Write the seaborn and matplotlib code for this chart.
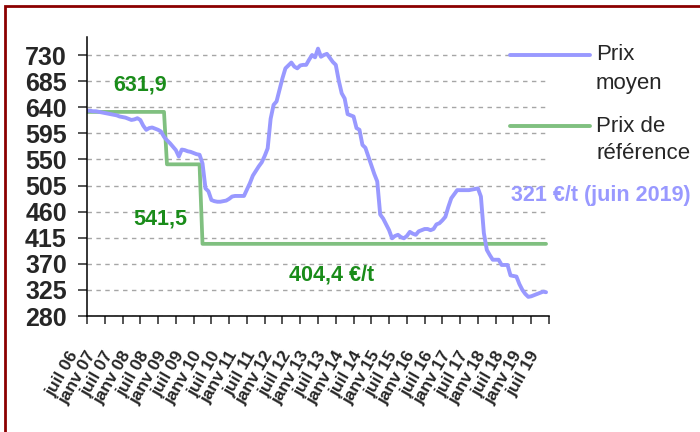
import numpy as np
import pandas as pd
import matplotlib
matplotlib.use("Agg")
import matplotlib.pyplot as plt
from matplotlib.lines import Line2D
from matplotlib.patches import Rectangle
from matplotlib.transforms import ScaledTranslation
import seaborn as sns

sns.set_style("ticks")
plt.rcParams["font.family"] = ["Liberation Sans", "DejaVu Sans"]

# prix moyen mensuel (EUR/t), juil 2006 -> juin 2019
prix_moyen = [
    634, 634, 633, 633, 632, 631,
    630, 629, 628, 627, 626, 624,
    623, 622, 620, 618, 619, 621,
    618, 608, 601, 604, 605, 603,
    601, 598, 589, 583, 578, 572,
    566, 555, 567, 566, 564, 563,
    561, 559, 558, 543, 500, 495,
    480, 478, 477, 477, 478, 479,
    482, 486, 487, 487, 487, 487,
    498, 509, 522, 530, 538, 545,
    556, 569, 620, 644, 650, 670,
    690, 707, 712, 717, 710, 707,
    712, 713, 713, 722, 730, 726,
    741, 727, 730, 732, 725, 718,
    713, 686, 664, 655, 628, 626,
    624, 604, 601, 575, 570, 555,
    540, 525, 512, 455, 448, 438,
    428, 414, 418, 420, 416, 414,
    418, 425, 422, 420, 426, 428,
    430, 430, 428, 430, 438, 440,
    445, 451, 468, 483, 490, 497,
    497, 497, 497, 497, 498, 499,
    500, 486, 423, 394, 385, 377,
    377, 377, 368, 368, 368, 350,
    349, 348, 335, 325, 318, 313,
    314, 316, 318, 320, 322, 321,
]

# prix de reference : 631,9 (jusqu'a sept 08), 541,5 (campagne 08/09), 404,4 ensuite
prix_reference = [631.9] * 27 + [541.5] * 12 + [404.4] * 117

x_labels = [
    "juil 06", "janv 07", "juil 07", "janv 08", "juil 08", "janv 09", "juil 09",
    "janv 10", "juil 10", "janv 11", "juil 11", "janv 12", "juil 12", "janv 13",
    "juil 13", "janv 14", "juil 14", "janv 15", "juil 15", "janv 16", "juil 16",
    "janv 17", "juil 17", "janv 18", "juil 18", "janv 19", "juil 19",
]
y_ticks = [280, 325, 370, 415, 460, 505, 550, 595, 640, 685, 730]

df = pd.DataFrame({
    "mois": np.arange(len(prix_moyen)),
    "prix_moyen": prix_moyen,
    "prix_reference": prix_reference,
})

BLUE = "#9999FF"
GREEN = "#80C080"
DGREEN = "#1A8C1A"

fig = plt.figure(figsize=(7, 4.32), dpi=100)
ax = fig.add_axes([0.1243, 0.2685, 0.66, 0.6458])

sns.lineplot(data=df, x="mois", y="prix_reference", ax=ax, color=GREEN, lw=2.7)
sns.lineplot(data=df, x="mois", y="prix_moyen", ax=ax, color=BLUE, lw=2.8)

ax.set_xlim(0, 156)
ax.set_ylim(280, 761)
ax.set_yticks(y_ticks)
ax.set_yticklabels([str(v) for v in y_ticks], fontsize=18, fontweight="bold")
ax.set_xticks(np.arange(0, 157, 6))
ax.set_xticklabels(x_labels, rotation=60, rotation_mode="anchor", ha="right",
                   va="center", fontsize=12.5, fontweight="bold")
ax.set_xlabel("")
ax.set_ylabel("")
ax.tick_params(axis="y", length=6.5, width=1.1, pad=8, direction="out")
ax.tick_params(axis="x", length=6, width=1.1, pad=20, direction="out")
shift = ScaledTranslation(-0.13, 0, fig.dpi_scale_trans)
for lab in ax.get_xticklabels():
    lab.set_transform(lab.get_transform() + shift)
ax.yaxis.grid(True, color="#A6A6A6", lw=1.0, linestyle=(0, (3.2, 3.2)))
ax.xaxis.grid(False)
for s in ["top", "right"]:
    ax.spines[s].set_visible(False)
for s in ["left", "bottom"]:
    ax.spines[s].set_linewidth(1.1)
    ax.spines[s].set_color("black")

# annotations
ax.text(17.9, 678, "631,9", color=DGREEN, fontsize=15.5, fontweight="bold",
        ha="center", va="center")
ax.text(24.7, 447, "541,5", color=DGREEN, fontsize=15.5, fontweight="bold",
        ha="center", va="center")
ax.text(82.6, 351, "404,4 €/t", color=DGREEN, fontsize=15.5, fontweight="bold",
        ha="center", va="center")
ax.text(143, 487, "321 €/t (juin 2019)", color=BLUE, fontsize=15.5,
        fontweight="bold", ha="left", va="center", clip_on=False)

# legende
W, H = 700, 432
for yk, col in [(55, BLUE), (126, GREEN)]:
    fig.add_artist(Line2D([510 / W, 590 / W], [1 - yk / H, 1 - yk / H],
                          color=col, lw=2.8))
for yk, txt in [(55, "Prix"), (83, "moyen"), (126, "Prix de"), (154, "référence")]:
    fig.text(596 / W, 1 - yk / H, txt, fontsize=16, ha="left", va="center")

# cadre
fig.add_artist(Rectangle((5 / W, -0.1), 1.2, 1.1 - 6 / H, fill=False,
                         edgecolor="#8B0000", lw=2.0))

fig.savefig("out.png", dpi=100)
